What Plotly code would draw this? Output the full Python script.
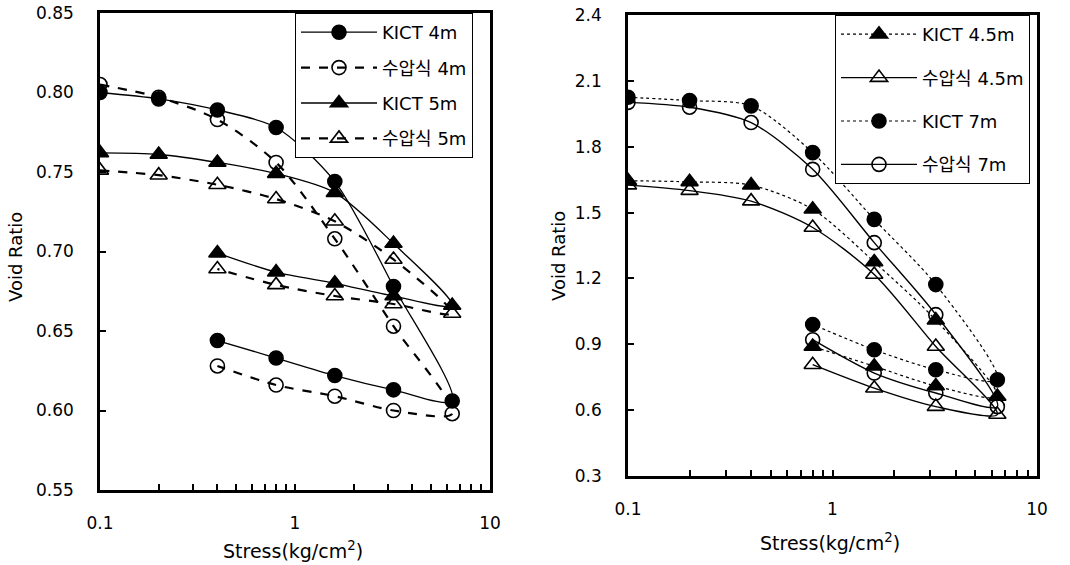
import plotly.graph_objects as go

# ---------------- data ----------------
stress_left = [0.1, 0.2, 0.4, 0.8, 1.6, 3.2, 6.4, 3.2, 1.6, 0.8, 0.4]
kict_4m = [0.800, 0.796, 0.789, 0.778, 0.744, 0.678, 0.606, 0.613, 0.622, 0.633, 0.644]
suap_4m = [0.805, 0.797, 0.783, 0.756, 0.708, 0.653, 0.598, 0.600, 0.609, 0.616, 0.628]
kict_5m = [0.762, 0.761, 0.756, 0.749, 0.737, 0.705, 0.666, 0.672, 0.680, 0.687, 0.699]
suap_5m = [0.751, 0.748, 0.742, 0.733, 0.719, 0.695, 0.661, 0.667, 0.672, 0.679, 0.689]

stress_right = [0.1, 0.2, 0.4, 0.8, 1.6, 3.2, 6.4, 3.2, 1.6, 0.8]
kict_45m = [1.645, 1.640, 1.625, 1.515, 1.275, 1.010, 0.662, 0.710, 0.800, 0.890]
suap_45m = [1.625, 1.600, 1.552, 1.432, 1.218, 0.890, 0.580, 0.616, 0.700, 0.807]
kict_7m = [2.025, 2.010, 1.986, 1.773, 1.469, 1.172, 0.738, 0.784, 0.875, 0.990]
suap_7m = [2.002, 1.980, 1.910, 1.697, 1.363, 1.035, 0.616, 0.678, 0.769, 0.921]

left_names = ["KICT 4m", "수압식 4m", "KICT 5m", "수압식 5m"]
right_names = ["KICT 4.5m", "수압식 4.5m", "KICT 7m", "수압식 7m"]
x_ticks = [0.1, 1, 10]
x_ticklabels = ["0.1", "1", "10"]

FONT = "DejaVu Sans, Noto Sans CJK KR, sans-serif"

fig = go.Figure()

def add(x, y, name, symbol, dash, width, xa, ya, legend, group):
    fig.add_trace(go.Scatter(
        x=x, y=y, name=name, mode="lines+markers",
        line=dict(color="black", width=width, dash=dash, shape="spline", smoothing=0.8),
        marker=dict(symbol=symbol, size=14 if "circle" in symbol else 15, color="black",
                    line=dict(color="black", width=1.6)),
        xaxis=xa, yaxis=ya, legend=legend, legendgroup=group,
    ))

# left panel
add(stress_left, kict_4m, left_names[0], "circle", "solid", 1.3, "x", "y", "legend", "a")
add(stress_left, suap_4m, left_names[1], "circle-open", "dash", 2.2, "x", "y", "legend", "b")
add(stress_left, kict_5m, left_names[2], "triangle-up", "solid", 1.3, "x", "y", "legend", "c")
add(stress_left, suap_5m, left_names[3], "triangle-up-open", "dash", 2.2, "x", "y", "legend", "d")

# right panel
add(stress_right, kict_45m, right_names[0], "triangle-up", "dot", 1.2, "x2", "y2", "legend2", "e")
add(stress_right, suap_45m, right_names[1], "triangle-up-open", "solid", 1.4, "x2", "y2", "legend2", "f")
add(stress_right, kict_7m, right_names[2], "circle", "dot", 1.2, "x2", "y2", "legend2", "g")
add(stress_right, suap_7m, right_names[3], "circle-open", "solid", 1.4, "x2", "y2", "legend2", "h")

W, H = 1070, 565

def px_x(p):
    return p / W

def px_y(p):
    return 1 - p / H

xcommon = dict(
    type="log", showgrid=False, zeroline=False, automargin=False,
    showline=True, linecolor="black", linewidth=2.5, mirror=True,
    ticks="inside", ticklen=6, tickwidth=2, tickcolor="black",
    tickvals=x_ticks, ticktext=x_ticklabels,
    tickfont=dict(family=FONT, size=17, color="black"),
    ticklabelstandoff=16,
    minor=dict(ticks="inside", ticklen=6, tickwidth=2, tickcolor="black", showgrid=False,
               tickvals=[0.2, 0.3, 0.4, 0.5, 0.6, 0.7, 0.8, 0.9, 2, 3, 4, 5, 6, 7, 8, 9]),
    range=[-1, 1],
)
ycommon = dict(
    showgrid=False, zeroline=False, automargin=False,
    showline=True, linecolor="black", linewidth=2.5, mirror=True,
    ticks="inside", ticklen=6, tickwidth=2, tickcolor="black",
    tickfont=dict(family=FONT, size=17, color="black"),
    ticklabelstandoff=20,
)

legend_common = dict(xanchor="left", yanchor="top",
                     bgcolor="white", bordercolor="black", borderwidth=1,
                     font=dict(family=FONT, size=18, color="black"),
                     itemwidth=76, traceorder="grouped")

fig.update_layout(
    template="none",
    width=W, height=H, autosize=False,
    margin=dict(l=0, r=0, t=0, b=0, pad=0, autoexpand=False),
    paper_bgcolor="white", plot_bgcolor="white",
    showlegend=True,
    xaxis=dict(xcommon, domain=[px_x(100), px_x(490)], anchor="y"),
    yaxis=dict(ycommon, domain=[px_y(490), px_y(13)], anchor="x",
               range=[0.55, 0.85], tick0=0.55, dtick=0.05, tickformat=".2f"),
    xaxis2=dict(xcommon, domain=[px_x(628), px_x(1037)], anchor="y2"),
    yaxis2=dict(ycommon, domain=[px_y(476), px_y(15)], anchor="x2",
                range=[0.3, 2.4], tick0=0.3, dtick=0.3, tickformat=".1f"),
    legend=dict(legend_common, x=px_x(295), y=px_y(13), tracegroupgap=9),
    legend2=dict(legend_common, x=px_x(835), y=px_y(15), tracegroupgap=17),
    annotations=[
        dict(text="Void Ratio", x=px_x(15), y=px_y(257), xref="paper", yref="paper",
             xanchor="center", yanchor="middle",
             showarrow=False, textangle=-90, font=dict(family=FONT, size=18, color="black")),
        dict(text="Void Ratio", x=px_x(558), y=px_y(256), xref="paper", yref="paper",
             xanchor="center", yanchor="middle",
             showarrow=False, textangle=-90, font=dict(family=FONT, size=18, color="black")),
        dict(text="Stress(kg/cm<sup>2</sup>)", x=px_x(293), y=px_y(550), xref="paper", yref="paper",
             xanchor="center", yanchor="middle",
             showarrow=False, font=dict(family=FONT, size=19, color="black")),
        dict(text="Stress(kg/cm<sup>2</sup>)", x=px_x(830), y=px_y(542), xref="paper", yref="paper",
             xanchor="center", yanchor="middle",
             showarrow=False, font=dict(family=FONT, size=19, color="black")),
    ],
)

fig.write_html("out.html")
